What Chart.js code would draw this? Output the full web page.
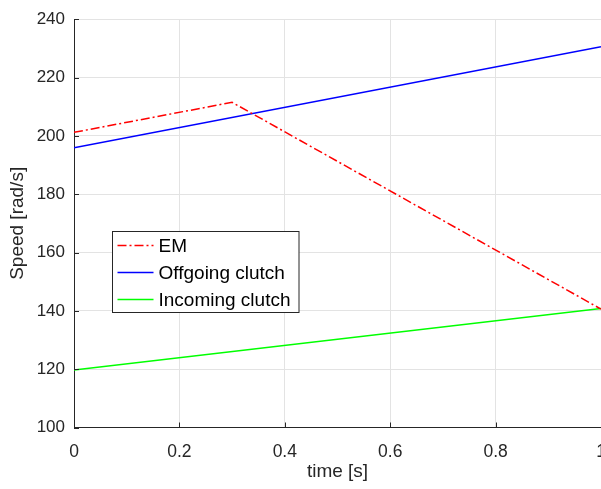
<!DOCTYPE html>
<html>
<head>
<meta charset="utf-8">
<script src="https://cdn.jsdelivr.net/npm/chart.js@4.4.1/dist/chart.umd.min.js"></script>
<style>
	html, body { margin: 0; padding: 0; background: #fff; overflow: hidden; }
	#wrap { width: 640px; height: 489px; }
</style>
</head>
<body>
<div id="wrap"><canvas id="chart" width="640" height="489"></canvas></div>
<script>
// values
const seriesNames = ['EM', 'Offgoing clutch', 'Incoming clutch'];
const emTime = [0, 0.3, 1];
const emSpeed = [201.2, 211.5, 140.6];
const offgoingTime = [0, 1];
const offgoingSpeed = [195.9, 230.6];
const incomingTime = [0, 1];
const incomingSpeed = [119.7, 140.8];
const xTicks = [0, 0.2, 0.4, 0.6, 0.8, 1];
const yTicks = [100, 120, 140, 160, 180, 200, 220, 240];

const axisColor = '#262626';
const fontFamily = '"Liberation Sans", Arial, Helvetica, sans-serif';

function toPoints(xs, ys) {
	return xs.map((x, i) => ({ x: x, y: ys[i] }));
}

// MATLAB style ticks point into the plot
const innerTicks = {
	id: 'innerTicks',
	afterDatasetsDraw(chart) {
		const ctx = chart.ctx;
		const area = chart.chartArea;
		ctx.save();
		ctx.strokeStyle = axisColor;
		ctx.lineWidth = 1;
		ctx.beginPath();
		chart.scales.x.ticks.forEach(t => {
			const px = Math.round(chart.scales.x.getPixelForValue(t.value)) + 0.5;
			ctx.moveTo(px, area.bottom);
			ctx.lineTo(px, area.bottom - 5);
		});
		chart.scales.y.ticks.forEach(t => {
			const py = Math.round(chart.scales.y.getPixelForValue(t.value)) + 0.5;
			ctx.moveTo(area.left, py);
			ctx.lineTo(area.left + 5, py);
		});
		ctx.stroke();
		ctx.restore();
	}
};

// legend box sitting inside the axes
const boxLegend = {
	id: 'boxLegend',
	afterDraw(chart) {
		const ctx = chart.ctx;
		const left = 112.5, top = 231.5, width = 186.5, height = 81;
		ctx.save();
		ctx.fillStyle = '#fff';
		ctx.fillRect(left, top, width, height);
		ctx.strokeStyle = axisColor;
		ctx.lineWidth = 1;
		ctx.strokeRect(left, top, width, height);
		ctx.font = '19px ' + fontFamily;
		ctx.textBaseline = 'alphabetic';
		chart.data.datasets.forEach((ds, i) => {
			const y = top + 14 + i * 27;
			ctx.strokeStyle = ds.borderColor;
			ctx.lineWidth = ds.borderWidth;
			ctx.setLineDash(ds.borderDash || []);
			ctx.beginPath();
			ctx.moveTo(left + 5, y);
			ctx.lineTo(left + 41, y);
			ctx.stroke();
			ctx.setLineDash([]);
			ctx.fillStyle = '#000';
			ctx.fillText(ds.label, left + 46, y + 6.5);
		});
		ctx.restore();
	}
};

new Chart(
	document.getElementById('chart').getContext('2d'),
	{
		type: 'line',
		data: {
			datasets: [
				{
					label: seriesNames[0],
					data: toPoints(emTime, emSpeed),
					borderColor: '#ff0000',
					borderWidth: 1.5,
					borderDash: [9, 3, 2, 3]
				},
				{
					label: seriesNames[1],
					data: toPoints(offgoingTime, offgoingSpeed),
					borderColor: '#0000ff',
					borderWidth: 1.5
				},
				{
					label: seriesNames[2],
					data: toPoints(incomingTime, incomingSpeed),
					borderColor: '#00ff00',
					borderWidth: 1.5
				}
			]
		},
		options: {
			responsive: false,
			animation: false,
			events: [],
			elements: { point: { radius: 0 }, line: { tension: 0 } },
			layout: { autoPadding: false, padding: { left: 0, top: 14, right: 39, bottom: 0 } },
			plugins: { legend: { display: false }, tooltip: { enabled: false } },
			scales: {
				x: {
					type: 'linear',
					min: 0,
					max: 1,
					afterBuildTicks: scale => { scale.ticks = xTicks.map(v => ({ value: v })); },
					afterFit: scale => { scale.height = 61.5; },
					grid: { color: '#e3e3e3', drawTicks: false },
					border: { color: axisColor, width: 1 },
					ticks: {
						color: axisColor,
						padding: 14,
						maxRotation: 0,
						font: { family: fontFamily, size: 17.5 },
						callback: v => String(v)
					},
					title: {
						display: true,
						text: 'time [s]',
						color: axisColor,
						padding: { top: 0, bottom: 5.5 },
						font: { family: fontFamily, size: 19 }
					}
				},
				y: {
					type: 'linear',
					min: 100,
					max: 240,
					afterBuildTicks: scale => { scale.ticks = yTicks.map(v => ({ value: v })); },
					afterFit: scale => { scale.width = 74; },
					grid: { color: '#e3e3e3', drawTicks: false },
					border: { color: axisColor, width: 1 },
					ticks: {
						color: axisColor,
						padding: 9,
						font: { family: fontFamily, size: 17 }
					},
					title: {
						display: true,
						text: 'Speed [rad/s]',
						color: axisColor,
						padding: { top: 6, bottom: 0 },
						font: { family: fontFamily, size: 19 }
					}
				}
			}
		},
		plugins: [innerTicks, boxLegend]
	}
);
</script>
</body>
</html>
